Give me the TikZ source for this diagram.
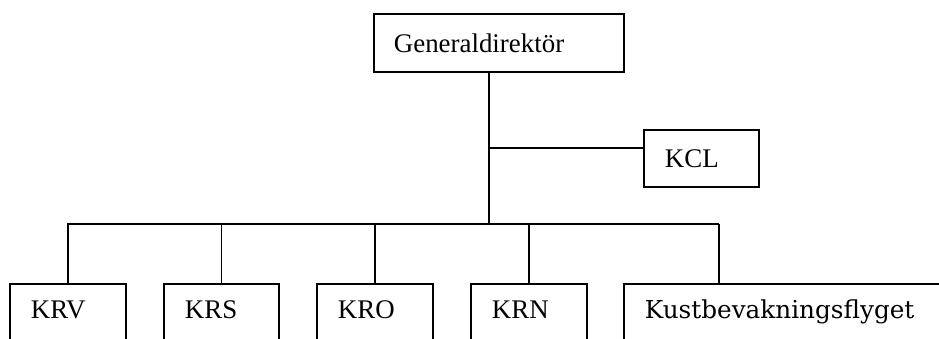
\documentclass[tikz,border=0pt]{standalone}
\usepackage{fontspec}
\setmainfont{Liberation Serif}
\newfontfamily\kbfont{DejaVu Serif}
\begin{document}
\begin{tikzpicture}[x=1pt,y=-1pt,
  box/.style={draw, line width=1.8pt, rectangle, inner xsep=21pt, align=left,
    font=\fontsize{26.9}{30}\selectfont},
  lowbox/.style={box, anchor=north west, inner ysep=0pt, text height=35pt, text depth=65pt},
  conn/.style={line width=1.8pt}]
\useasboundingbox (0,0) rectangle (939,338);
\clip (0,0) rectangle (939,338);
\node[box, anchor=north west, text width=210pt, minimum height=58pt, inner xsep=20pt] (gd) at (373,13) {Generaldirektör};
\node[box, anchor=north west, text width=73pt, minimum height=57pt] (kcl) at (643,129) {KCL};
\node[lowbox, text width=74pt] (krv) at (9,283) {KRV};
\node[lowbox, text width=73pt] (krs) at (163,283) {KRS};
\node[lowbox, text width=74pt] (kro) at (316,283) {KRO};
\node[lowbox, text width=74pt] (krn) at (470,283) {KRN};
\node[lowbox, text width=360pt, font=\kbfont\fontsize{24.7}{28}\selectfont] (kust) at (623,283) {Kustbevakningsflyget};
\coordinate (bus) at (489,224);
\coordinate (kclj) at (489,148);
\coordinate (bl) at (67,224);
\coordinate (br) at (719,224);
\draw[conn] (gd.south -| bus) -- (bus);
\draw[conn] (kclj) -- (kclj -| kcl.west);
\draw[conn] (bl) -- (br);
\draw[conn] (krv.north) -- (krv.north |- bl);
\draw[conn] (krs.north) -- (krs.north |- bl);
\draw[conn] (kro.north) -- (kro.north |- bl);
\draw[conn] (krn.north) -- (krn.north |- bl);
\draw[conn] (br) -- (br |- kust.north);
\end{tikzpicture}
\end{document}
